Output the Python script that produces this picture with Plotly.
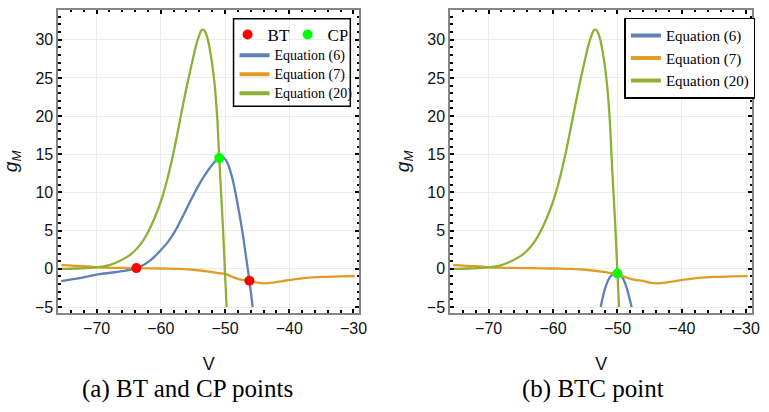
import plotly.graph_objects as go

# ---------------- data ----------------
# Equation (20): g_M as a function of V (same curve in both panels)
v_eq20 = [-75.5, -73.0, -70.0, -68.0, -66.5, -65.0, -64.0, -63.0, -62.0, -61.0,
          -60.0, -59.0, -58.0, -57.0, -56.0, -55.0, -54.5, -54.0, -53.6, -53.2,
          -52.8, -52.4, -52.0, -51.6, -51.2, -50.9, -50.6, -50.3, -50.0, -49.75]
g_eq20 = [0.0, 0.05, 0.2, 0.5, 1.0, 1.7, 2.4, 3.4, 4.8, 6.6,
          8.8, 11.7, 15.3, 19.5, 23.7, 27.5, 29.3, 30.6, 31.3, 31.2,
          30.4, 28.9, 26.8, 24.0, 19.6, 14.5, 9.8, 5.0, -0.6, -5.0]

# Equation (6), panel (a)
v_eq6_a = [-75.5, -72.0, -69.6, -66.0, -63.8, -62.5, -61.5, -60.4, -59.0, -57.8,
           -56.5, -55.2, -54.2, -53.2, -52.2, -51.5, -50.9, -50.4, -49.9, -49.4,
           -49.0, -48.6, -48.0, -47.3, -46.8, -46.2, -45.7]
g_eq6_a = [-1.6, -1.1, -0.7, -0.3, 0.1, 0.6, 1.2, 2.1, 3.4, 4.9,
           7.0, 9.2, 10.8, 12.2, 13.4, 14.1, 14.5, 14.6, 14.3, 13.4,
           12.3, 10.9, 8.3, 4.9, 2.0, -1.55, -5.0]

# Equation (6), panel (b)
v_eq6_b = [-52.6, -52.0, -51.5, -51.0, -50.5, -50.2, -49.8, -49.3, -48.8, -48.3, -47.8]
g_eq6_b = [-5.0, -2.8, -1.6, -0.9, -0.6, -0.55, -0.6, -1.0, -1.9, -3.3, -5.0]

# Equation (7) (same curve in both panels)
v_eq7 = [-75.5, -72.0, -69.6, -66.0, -63.8, -60.0, -57.0, -54.5, -52.5, -51.0,
         -50.0, -49.0, -48.0, -47.0, -46.2, -45.0, -43.9, -42.5, -41.0, -39.0,
         -37.0, -35.0, -32.0, -29.8]
g_eq7 = [0.5, 0.35, 0.2, 0.12, 0.1, 0.05, 0.0, -0.15, -0.35, -0.55,
         -0.65, -1.0, -1.3, -1.48, -1.55, -1.8, -1.9, -1.8, -1.6, -1.35,
         -1.15, -1.05, -0.98, -0.95]

# Special points
bt_v, bt_g = [-63.8, -46.2], [0.1, -1.55]
cp_v, cp_g = [-50.9], [14.5]
btc_v, btc_g = [-50.0], [-0.6]

x_ticks = [-70, -60, -50, -40, -30]
y_ticks = [-5, 0, 5, 10, 15, 20, 25, 30]
eq_names = ["Equation (6)", "Equation (7)", "Equation (20)"]
captions = ["(a) BT and CP points", "(b) BTC point"]

# ---------------- styling ----------------
BLUE, ORANGE, GREEN = "#5E81B5", "#E19C24", "#8FB032"
RED, LIME = "#FF0000", "#00FF00"
LW = 2.3
SERIF = "Liberation Serif"
SANS = "Liberation Sans"

fig = go.Figure()


def curve(x, y, color, xa, ya):
    fig.add_trace(go.Scatter(x=x, y=y, mode="lines", xaxis=xa, yaxis=ya,
                             line=dict(color=color, width=LW, shape="spline", smoothing=1.0),
                             showlegend=False, hoverinfo="skip"))


def points(x, y, color, name, xa, ya, legend=None):
    fig.add_trace(go.Scatter(x=x, y=y, mode="markers", xaxis=xa, yaxis=ya, name=name,
                             marker=dict(color=color, size=10),
                             showlegend=legend is not None, legend=legend or "legend"))


def legend_line(name, color, legend, size):
    # text drawn at `size` px while the legend's own font keeps rows compact
    fig.add_trace(go.Scatter(x=[None], y=[None], mode="lines",
                             name=f"<span style='font-size:{size}px'>{name}</span>",
                             line=dict(color=color, width=4), legend=legend,
                             xaxis="x", yaxis="y"))


# panel (a)
curve(v_eq6_a, g_eq6_a, BLUE, "x", "y")
curve(v_eq7, g_eq7, ORANGE, "x", "y")
curve(v_eq20, g_eq20, GREEN, "x", "y")
points(bt_v, bt_g, RED, "BT", "x", "y", legend="legend")
points(cp_v, cp_g, LIME, "CP", "x", "y", legend="legend")

# panel (b)
curve(v_eq6_b, g_eq6_b, BLUE, "x2", "y2")
curve(v_eq7, g_eq7, ORANGE, "x2", "y2")
curve(v_eq20, g_eq20, GREEN, "x2", "y2")
points(btc_v, btc_g, LIME, "BTC", "x2", "y2")

# legend entries
for name, color in zip(eq_names, [BLUE, ORANGE, GREEN]):
    legend_line(name, color, "legend2", 14)
for name, color in zip(eq_names, [BLUE, ORANGE, GREEN]):
    legend_line(name, color, "legend3", 15)

W, H = 769, 412


def xaxis_cfg(domain):
    return dict(domain=domain, range=[-75.95, -29.1], tickvals=x_ticks,
                ticktext=["\u221270", "\u221260", "\u221250", "\u221240", "\u221230"],
                ticks="inside", ticklen=4, tickwidth=1.5, tickcolor="black",
                minor=dict(dtick=2, tick0=0, ticks="inside", ticklen=2.5, tickwidth=1.5,
                           tickcolor="black", showgrid=False),
                showline=True, linecolor="#858585", linewidth=2, mirror="allticks",
                showgrid=True, gridcolor="#ebebeb", gridwidth=1, zeroline=False,
                tickfont=dict(family=SANS, size=16, color="#111"),
                title=dict(text="V", font=dict(family=SANS, size=18, color="#111"), standoff=21))


def yaxis_cfg(domain, anchor):
    return dict(domain=domain, anchor=anchor, range=[-5.74, 33.9], tickvals=y_ticks,
                ticktext=["\u22125"] + [str(t) for t in y_ticks[1:]],
                ticks="inside", ticklen=4, tickwidth=1.5, tickcolor="black",
                minor=dict(dtick=1, tick0=0, ticks="inside", ticklen=2.5, tickwidth=1.5,
                           tickcolor="black", showgrid=False),
                showline=True, linecolor="#858585", linewidth=2, mirror="allticks",
                showgrid=True, gridcolor="#ebebeb", gridwidth=1, zeroline=False,
                tickfont=dict(family=SANS, size=16, color="#111"),
                title=dict(text="<i>g</i><sub><i>M</i></sub>",
                           font=dict(family=SANS, size=19, color="#111"), standoff=12))


ydom = [1 - 315 / H, 1 - 10 / H]
fig.update_layout(
    width=W, height=H, margin=dict(l=0, r=0, t=0, b=0),
    paper_bgcolor="white", plot_bgcolor="white",
    xaxis=xaxis_cfg([59 / W, 363 / W]) | dict(anchor="y"),
    yaxis=yaxis_cfg(ydom, "x"),
    xaxis2=xaxis_cfg([455 / W, 760 / W]) | dict(anchor="y2"),
    yaxis2=yaxis_cfg(ydom, "x2"),
    legend=dict(orientation="h", x=230 / W, y=1 - 17 / H, xanchor="left", yanchor="top",
                bgcolor="rgba(0,0,0,0)", borderwidth=0, entrywidth=15,
                font=dict(family=SERIF, size=17, color="black")),
    legend2=dict(x=237 / W, y=1 - 41 / H, xanchor="left", yanchor="top",
                 bgcolor="rgba(0,0,0,0)", borderwidth=0, tracegroupgap=0,
                 font=dict(family=SERIF, size=11.5, color="black")),
    legend3=dict(x=631 / W, y=1 - 18 / H, xanchor="left", yanchor="top",
                 bgcolor="white", bordercolor="black", borderwidth=1.5, tracegroupgap=0,
                 font=dict(family=SERIF, size=15, color="black")),
    shapes=[dict(type="rect", xref="paper", yref="paper",
                 x0=236 / W, x1=354 / W, y0=1 - 107 / H, y1=1 - 19 / H,
                 line=dict(color="black", width=1.5), fillcolor="rgba(255,255,255,0)",
                 layer="above")],
    annotations=[
        dict(text=captions[0], x=189 / W, y=1 - 392 / H, xref="paper", yref="paper",
             showarrow=False, xanchor="center", yanchor="middle",
             font=dict(family=SERIF, size=25, color="black")),
        dict(text=captions[1], x=599 / W, y=1 - 392 / H, xref="paper", yref="paper",
             showarrow=False, xanchor="center", yanchor="middle",
             font=dict(family=SERIF, size=25, color="black")),
    ],
)

fig.write_html("out.html")
